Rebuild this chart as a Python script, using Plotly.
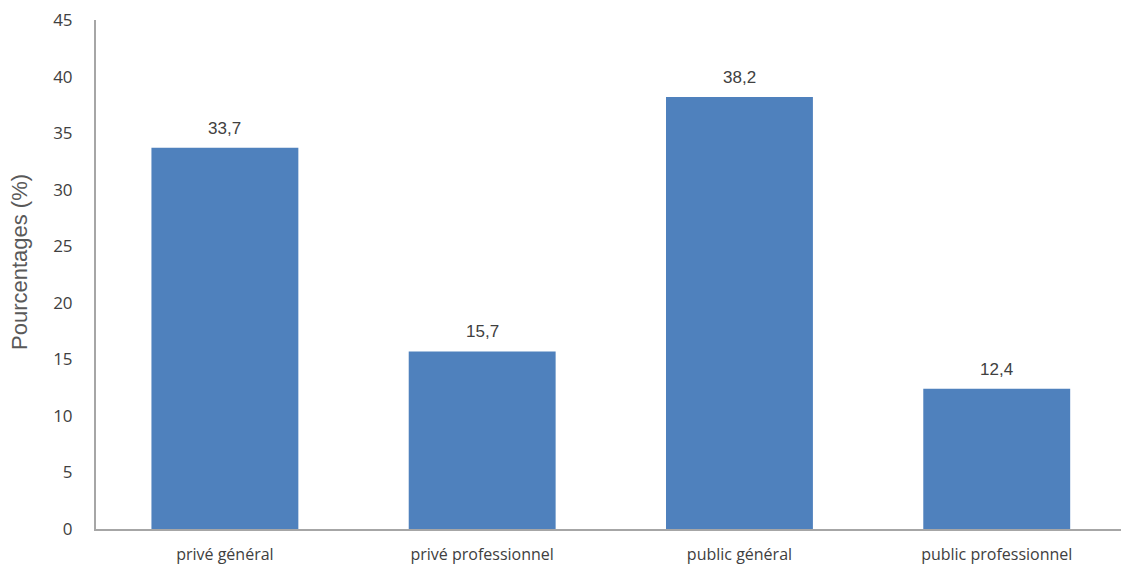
import plotly.graph_objects as go

categories = ["privé général", "privé professionnel", "public général", "public professionnel"]
values = [33.7, 15.7, 38.2, 12.4]
value_labels = ["33,7", "15,7", "38,2", "12,4"]
y_ticks = [0, 5, 10, 15, 20, 25, 30, 35, 40, 45]

W, H = 1121, 568
L, R, T, B = 96, 0, 20, 39
TEXT = "#404040"

fig = go.Figure(
    go.Bar(
        x=categories,
        y=values,
        marker=dict(color="#4F81BD", line=dict(width=0)),
        cliponaxis=False,
        hoverinfo="x+y",
    )
)

# value labels above each bar
for cat, val, lab in zip(categories, values, value_labels):
    fig.add_annotation(
        x=cat,
        y=val,
        text=lab,
        showarrow=False,
        xanchor="center",
        yanchor="bottom",
        yshift=8,
        font=dict(family="Liberation Sans", size=17, color=TEXT),
    )

fig.update_layout(
    width=W,
    height=H,
    margin=dict(l=L, r=R, t=T, b=B),
    paper_bgcolor="white",
    plot_bgcolor="white",
    bargap=0.429,
    showlegend=False,
    font=dict(family="Open Sans", size=17, color=TEXT),
)

fig.update_xaxes(
    range=[-0.501, 3.483],
    showline=True,
    linecolor="#A6A6A6",
    linewidth=2,
    showgrid=False,
    ticks="",
    ticklabelstandoff=10,
    tickfont=dict(family="Open Sans", size=16, color=TEXT),
    automargin=False,
)

fig.update_yaxes(
    range=[0, 45],
    tickvals=y_ticks,
    showline=True,
    linecolor="#A6A6A6",
    linewidth=2,
    showgrid=False,
    zeroline=False,
    ticks="",
    ticklabelstandoff=18,
    tickfont=dict(family="Open Sans", size=17, color=TEXT),
    automargin=False,
)

fig.add_annotation(
    text="Pourcentages (%)",
    xref="paper",
    yref="paper",
    x=(19 - L) / (W - L - R),
    y=(H - B - 262) / (H - T - B),
    xanchor="center",
    yanchor="middle",
    textangle=-90,
    showarrow=False,
    font=dict(family="Liberation Sans", size=22, color="#595959"),
)

fig.write_html("out.html")
